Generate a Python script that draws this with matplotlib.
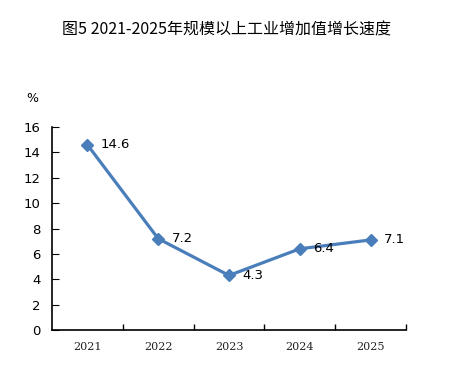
import matplotlib
matplotlib.use("Agg")
import matplotlib.pyplot as plt
from matplotlib.ticker import FixedLocator

years = ["2021", "2022", "2023", "2024", "2025"]
growth = [14.6, 7.2, 4.3, 6.4, 7.1]
yticks = [0, 2, 4, 6, 8, 10, 12, 14, 16]
title = "图5 2021-2025年规模以上工业增加值增长速度"

plt.rcParams['font.family'] = ['DejaVu Sans', 'Noto Sans CJK SC']

fig = plt.figure(figsize=(4.53, 3.85), dpi=100)
ax = fig.add_axes([52/453, 55/385, (406-52)/453, (330-127)/385])

x = list(range(len(years)))
color = "#4A7EBB"
ax.plot(x, growth, color=color, lw=2.3, marker="D", ms=6, zorder=3)
for xi, v in zip(x, growth):
    ax.annotate(f"{v}", (xi, v), xytext=(9.5, 0), textcoords="offset points",
                va="center", ha="left", fontsize=9.5, color="black")

ax.set_xlim(-0.5, len(years) - 0.5)
ax.set_ylim(0, 16)
ax.set_yticks(yticks)
ax.set_xticks(x)
ax.set_xticklabels(years, family=["DejaVu Serif"], fontsize=8, color="#222222")
ax.xaxis.set_minor_locator(FixedLocator([i + 0.5 for i in range(len(years))]))
ax.tick_params(axis="x", which="major", length=0, pad=9)
ax.tick_params(axis="x", which="minor", length=4, direction="in", width=1)
ax.tick_params(axis="y", direction="in", length=5, labelsize=9.5, pad=8)
for s in ["top", "right"]:
    ax.spines[s].set_visible(False)
for s in ["left", "bottom"]:
    ax.spines[s].set_linewidth(1.2)

fig.text(32/453, 1 - 99/385, "%", ha="center", va="center", fontsize=9)
fig.text(0.5, 1 - 30/385, title, ha="center", va="center", fontsize=11.5,
         family=["Noto Sans CJK SC", "DejaVu Sans"])

fig.savefig("out.png", dpi=100)
